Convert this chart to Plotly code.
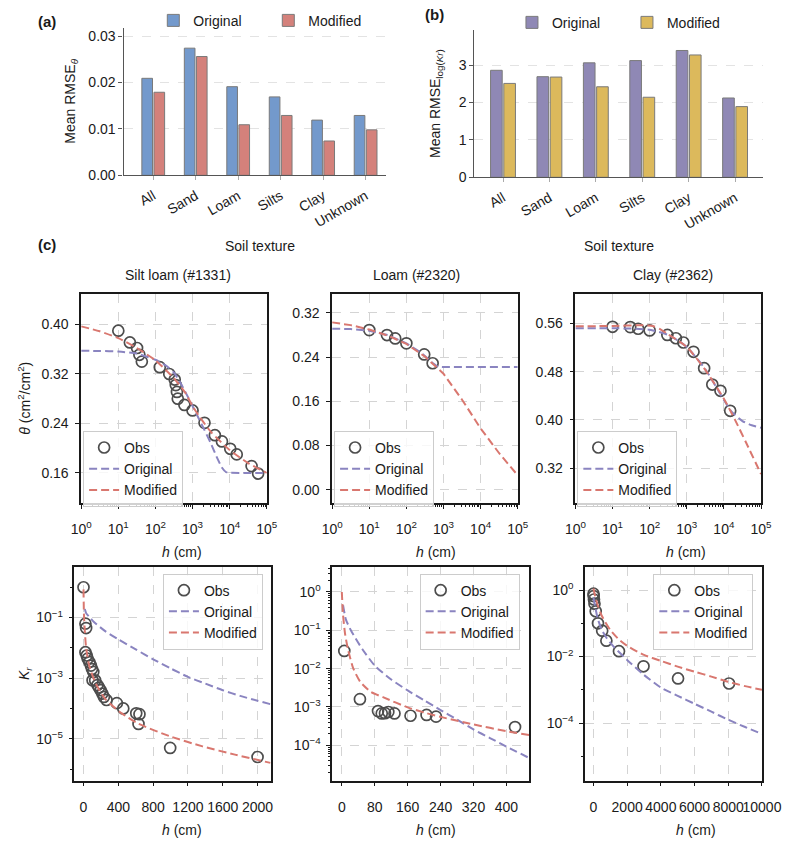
import math
import plotly.graph_objects as go

W, H = 806, 852
FONT = "Liberation Sans, Arial, Helvetica, sans-serif"

# ---------------- (a) / (b) data ----------------
categories = ["All", "Sand", "Loam", "Silts", "Clay", "Unknown"]
rmse_theta_original = [0.0209, 0.0274, 0.0191, 0.0169, 0.0119, 0.0129]
rmse_theta_modified = [0.0179, 0.0256, 0.0109, 0.0129, 0.0074, 0.0098]
rmse_logkr_original = [2.86, 2.69, 3.06, 3.12, 3.39, 2.12]
rmse_logkr_modified = [2.51, 2.68, 2.42, 2.14, 3.27, 1.89]

# ---------------- (c) top row: water retention ----------------
obs_h_1331 = [10, 20.5, 32, 37, 43, 131, 236, 331, 354, 380, 400, 605, 1000, 2100, 4000, 6200, 10400, 15500, 39000, 58500]
obs_theta_1331 = [0.390, 0.371, 0.362, 0.351, 0.340, 0.331, 0.320, 0.311, 0.302, 0.291, 0.280, 0.270, 0.261, 0.241, 0.221, 0.211, 0.199, 0.190, 0.171, 0.159]
orig_h_1331 = [1, 3.16, 10, 31.6, 100, 200, 316, 501, 794, 1259, 1995, 3162, 4467, 6310, 7943, 10000, 31623, 100000]
orig_theta_1331 = [0.3575, 0.3572, 0.3562, 0.353, 0.343, 0.333, 0.322, 0.303, 0.280, 0.256, 0.232, 0.207, 0.186, 0.168, 0.1615, 0.1603, 0.160, 0.160]
mod_h_1331 = [1, 3.16, 10, 31.6, 100, 316, 631, 1000, 1585, 3162, 10000, 31623, 100000]
mod_theta_1331 = [0.397, 0.389, 0.378, 0.362, 0.342, 0.313, 0.290, 0.268, 0.250, 0.226, 0.197, 0.176, 0.160]

obs_h_2320 = [10, 30, 50, 100, 302, 510]
obs_theta_2320 = [0.289, 0.280, 0.274, 0.265, 0.245, 0.229]
orig_h_2320 = [1, 3.16, 10, 31.6, 100, 251, 501, 708, 1000, 10000, 100000]
orig_theta_2320 = [0.2915, 0.291, 0.288, 0.280, 0.265, 0.248, 0.230, 0.2225, 0.222, 0.222, 0.222]
mod_h_2320 = [1, 3.16, 10, 31.6, 100, 316, 1000, 3162, 10000, 31623, 100000]
mod_theta_2320 = [0.303, 0.298, 0.290, 0.279, 0.264, 0.241, 0.210, 0.163, 0.111, 0.066, 0.026]

obs_h_2362 = [10, 30, 49, 100, 300, 510, 810, 1520, 2940, 4870, 8100, 14800]
obs_theta_2362 = [0.5545, 0.554, 0.5513, 0.5485, 0.541, 0.5355, 0.5284, 0.513, 0.4858, 0.4586, 0.4482, 0.415]
orig_h_2362 = [1, 10, 31.6, 100, 316, 1000, 3162, 10000, 15849, 31623, 56234, 100000]
orig_theta_2362 = [0.552, 0.552, 0.5515, 0.5495, 0.541, 0.521, 0.484, 0.433, 0.414, 0.398, 0.391, 0.387]
mod_h_2362 = [1, 10, 63, 126, 200, 316, 1000, 3162, 10000, 19953, 39811, 100000]
mod_theta_2362 = [0.5555, 0.5558, 0.557, 0.5555, 0.550, 0.542, 0.521, 0.483, 0.435, 0.400, 0.362, 0.310]

# ---------------- (c) bottom row: relative conductivity ----------------
obs_hk_1331 = [0, 22, 30, 22, 37, 48, 67, 85, 97, 112, 104, 134, 160, 178, 197, 216, 234, 264, 383, 457, 606, 643, 632, 996, 2000]
obs_kr_1331 = [1.0, 0.063, 0.045, 0.0072, 0.0056, 0.0044, 0.0034, 0.0026, 0.0020, 0.0016, 0.00085, 0.00085, 0.00059, 0.00049, 0.00040, 0.00031, 0.00024, 0.00019, 0.00015, 0.00010, 6.9e-5, 6.5e-5, 3.1e-5, 5.0e-6, 2.5e-6]
orig_hk_1331 = [15, 30, 67, 120, 253, 400, 600, 800, 1000, 1200, 1400, 1600, 1800, 2000, 2150]
orig_kr_1331 = [0.19, 0.14, 0.105, 0.071, 0.035, 0.019, 0.0089, 0.0042, 0.0021, 0.0011, 0.00066, 0.0004, 0.00026, 0.00018, 0.000138]
mod_hk_1331 = [0, 5, 15, 30, 67, 141, 253, 439, 624, 996, 1368, 1740, 2148]
mod_kr_1331 = [0.85, 0.126, 0.036, 0.010, 0.0025, 0.00066, 0.0002, 6.9e-5, 3.2e-5, 1.2e-5, 5.6e-6, 3.0e-6, 1.6e-6]

obs_hk_2320 = [6, 44, 88, 97, 105, 113, 128, 167, 206, 229, 421]
obs_kr_2320 = [0.029, 0.0016, 0.00078, 0.00068, 0.00069, 0.00074, 0.00068, 0.00059, 0.00062, 0.00056, 0.00030]
orig_hk_2320 = [3, 10, 22, 50, 80, 120, 160, 200, 240, 280, 320, 360, 400, 455]
orig_kr_2320 = [0.45, 0.19, 0.1, 0.032, 0.012, 0.0052, 0.0027, 0.0015, 0.00083, 0.00047, 0.00026, 0.000155, 9.3e-5, 4.7e-5]
mod_hk_2320 = [0, 3, 8, 15, 28, 45, 70, 100, 163, 206, 250, 320, 400, 455]
mod_kr_2320 = [1.0, 0.25, 0.079, 0.032, 0.01, 0.0045, 0.0025, 0.0018, 0.00095, 0.00069, 0.00052, 0.00035, 0.000234, 0.000186]

obs_hk_2362 = [3, 10, 30, 60, 134, 268, 517, 766, 1514, 2970, 5020, 8047]
obs_kr_2362 = [0.78, 0.66, 0.52, 0.39, 0.23, 0.10, 0.060, 0.030, 0.0145, 0.0051, 0.0022, 0.00155]
orig_hk_2362 = [0, 100, 250, 500, 800, 1200, 2000, 3000, 4000, 5000, 6000, 7000, 8000, 9000, 10000]
orig_kr_2362 = [0.6, 0.32, 0.14, 0.063, 0.035, 0.02, 0.0079, 0.0028, 0.00117, 0.00066, 0.00038, 0.00022, 0.000126, 7.6e-5, 4.7e-5]
mod_hk_2362 = [0, 100, 250, 500, 1000, 1500, 2000, 3000, 4000, 5000, 6000, 7000, 8000, 9000, 10000]
mod_kr_2362 = [1.12, 0.66, 0.355, 0.166, 0.063, 0.033, 0.021, 0.0112, 0.0074, 0.005, 0.0035, 0.0025, 0.00174, 0.00129, 0.001]

# ---------------- styling ----------------
BAR_BLUE, BAR_RED = "#7399cc", "#d4817b"
BAR_PURPLE, BAR_YELLOW = "#8f88b5", "#dcb95c"
LINE_PURPLE, LINE_RED = "#8a84c0", "#d9776f"
OBS_COLOR = "#4d4d4d"
TXT = "#1a1a1a"
FS = 14


def fx(p):
    return p / W


def fy(p):
    return 1 - p / H


fig = go.Figure()

# bars (a)
fig.add_trace(go.Bar(x=categories, y=rmse_theta_original, name="Original", xaxis="x", yaxis="y",
                     marker=dict(color=BAR_BLUE, line=dict(color="#7a7a7a", width=1)), legend="legend"))
fig.add_trace(go.Bar(x=categories, y=rmse_theta_modified, name="Modified", xaxis="x", yaxis="y",
                     marker=dict(color=BAR_RED, line=dict(color="#7a7a7a", width=1)), legend="legend"))
# bars (b)
fig.add_trace(go.Bar(x=categories, y=rmse_logkr_original, name="Original", xaxis="x2", yaxis="y2",
                     marker=dict(color=BAR_PURPLE, line=dict(color="#7a7a7a", width=1)), legend="legend2"))
fig.add_trace(go.Bar(x=categories, y=rmse_logkr_modified, name="Modified", xaxis="x2", yaxis="y2",
                     marker=dict(color=BAR_YELLOW, line=dict(color="#7a7a7a", width=1)), legend="legend2"))

panels = [
    (3, obs_h_1331, obs_theta_1331, orig_h_1331, orig_theta_1331, mod_h_1331, mod_theta_1331, "spline"),
    (4, obs_h_2320, obs_theta_2320, orig_h_2320, orig_theta_2320, mod_h_2320, mod_theta_2320, "linear"),
    (5, obs_h_2362, obs_theta_2362, orig_h_2362, orig_theta_2362, mod_h_2362, mod_theta_2362, "spline"),
    (6, obs_hk_1331, obs_kr_1331, orig_hk_1331, orig_kr_1331, mod_hk_1331, mod_kr_1331, "spline"),
    (7, obs_hk_2320, obs_kr_2320, orig_hk_2320, orig_kr_2320, mod_hk_2320, mod_kr_2320, "spline"),
    (8, obs_hk_2362, obs_kr_2362, orig_hk_2362, orig_kr_2362, mod_hk_2362, mod_kr_2362, "spline"),
]
for i, oh, ov, gh, gv, mh, mv, shape in panels:
    lg = "legend%d" % i
    fig.add_trace(go.Scatter(x=oh, y=ov, mode="markers", name="Obs", xaxis="x%d" % i, yaxis="y%d" % i,
                             marker=dict(symbol="circle", size=11, color="rgba(0,0,0,0)",
                                         line=dict(color=OBS_COLOR, width=1.7)),
                             legend=lg))
    fig.add_trace(go.Scatter(x=gh, y=gv, mode="lines", name="Original", xaxis="x%d" % i, yaxis="y%d" % i,
                             line=dict(color=LINE_PURPLE, width=2, dash="8px,4px", shape=shape,
                                       smoothing=0.6 if shape == "spline" else None),
                             legend=lg))
    fig.add_trace(go.Scatter(x=mh, y=mv, mode="lines", name="Modified", xaxis="x%d" % i, yaxis="y%d" % i,
                             line=dict(color=LINE_RED, width=2, dash="8px,4px", shape=shape,
                                       smoothing=0.6 if shape == "spline" else None),
                             legend=lg))

# ---------------- axes ----------------
bar_x = dict(type="category", showline=True, linecolor="#555555", linewidth=1.2, ticks="outside",
             ticklen=4, tickcolor="#aaaaaa", tickangle=-30, showgrid=False, zeroline=False,
             ticklabelstandoff=2, tickfont=dict(size=FS, color=TXT))
bar_y = dict(showline=True, linecolor="#555555", linewidth=1.2, ticks="outside", ticklen=4,
             tickcolor="#555555", showgrid=True, gridcolor="#e3e3e3", gridwidth=0.8, griddash="dash",
             zeroline=False, tickfont=dict(size=FS, color=TXT))
box = dict(showline=True, mirror=True, linecolor=TXT, linewidth=1.5, ticks="outside", ticklen=4,
           tickwidth=1.2, tickcolor=TXT, showgrid=True, gridcolor="#d4d4d4", gridwidth=0.8,
           griddash="dash", zeroline=False, tickfont=dict(size=FS, color=TXT))

log_major = [1, 10, 100, 1000, 10000, 100000]
log_text = ["10<sup>%d</sup>" % k for k in range(6)]
log_minor = [m * 10 ** d for d in range(5) for m in range(2, 10)]

layout = dict(
    xaxis=dict(bar_x, domain=[fx(117), fx(390)], anchor="y", range=[-0.7, 5.48]),
    yaxis=dict(bar_y, domain=[fy(177), fy(28)], anchor="x", range=[0, 0.0318],
               tickvals=[0, 0.01, 0.02, 0.03], ticktext=["0.00", "0.01", "0.02", "0.03"]),
    xaxis2=dict(bar_x, domain=[fx(482), fx(782)], anchor="y2", range=[-0.615, 5.6]),
    yaxis2=dict(bar_y, domain=[fy(179), fy(30)], anchor="x2", range=[0, 3.945], tickvals=[0, 1, 2, 3]),
)

top_dom = [fy(508), fy(297)]
for i, (l, r, yr, yt) in zip([3, 4, 5], [
        (73, 266, [0.111, 0.449], [0.16, 0.24, 0.32, 0.40]),
        (334, 527, [-0.0245, 0.354], [0.0, 0.08, 0.16, 0.24, 0.32]),
        (587, 780, [0.2616, 0.6086], [0.32, 0.40, 0.48, 0.56])]):
    layout["xaxis%d" % i] = dict(box, type="log", domain=[fx(l), fx(r)], anchor="y%d" % i, range=[0, 5],
                                 tickvals=log_major, ticktext=log_text, ticklabelstandoff=8, tickangle=0,
                                 minor=dict(tickvals=log_minor, ticks="outside", ticklen=2.5,
                                            tickcolor=TXT, showgrid=False))
    layout["yaxis%d" % i] = dict(box, domain=top_dom, anchor="x%d" % i, range=yr, ticklabelstandoff=4,
                                 tickvals=yt, ticktext=["%.2f" % v for v in yt])

bot_dom = [fy(788), fy(572)]
MINUS = "\u2212"
bottom_specs = [
    (6, 66, 270, [-104, 2150], [0, 400, 800, 1200, 1600, 2000], [-6.38, 0.68],
     [1e-1, 1e-3, 1e-5], [1, 1e-2, 1e-4, 1e-6]),
    (7, 334, 539, [-23.5, 455.6], [0, 80, 160, 240, 320, 400], [-4.92, 0.66],
     [1, 1e-1, 1e-2, 1e-3, 1e-4], [m * 10 ** d for d in range(-5, 1) for m in range(2, 10)]),
    (8, 597, 781, [-500, 10000], [0, 2000, 4000, 6000, 8000, 10000], [-5.73, 0.705],
     [1, 1e-2, 1e-4], [1e-1, 1e-3, 1e-5]),
]
for i, l, r, xr, xt, yr, yt, ym in bottom_specs:
    layout["xaxis%d" % i] = dict(box, domain=[fx(l), fx(r)], anchor="y%d" % i, range=xr, tickvals=xt,
                                 ticktext=[str(v) for v in xt], ticklabelstandoff=9, tickangle=0)
    ytext = []
    for v in yt:
        e = round(math.log10(v))
        ytext.append("10<sup>%s</sup>" % (str(e) if e >= 0 else MINUS + str(-e)))
    layout["yaxis%d" % i] = dict(box, type="log", domain=bot_dom, anchor="x%d" % i, range=yr,
                                 tickvals=yt, ticktext=ytext, ticklabelstandoff=3,
                                 minor=dict(tickvals=ym, ticks="outside", ticklen=2.5,
                                            tickcolor=TXT, showgrid=False))

# ---------------- legends ----------------
bar_leg = dict(orientation="h", xanchor="left", yanchor="middle", bgcolor="rgba(0,0,0,0)",
               borderwidth=0, font=dict(size=FS, color=TXT), entrywidthmode="pixels", entrywidth=70,
               itemclick=False)
layout["legend"] = dict(bar_leg, x=fx(148), y=fy(21))
layout["legend2"] = dict(bar_leg, x=fx(521), y=fy(23))

line_leg = dict(bgcolor="rgba(255,255,255,0.8)", bordercolor="#cccccc", borderwidth=1,
                font=dict(size=FS, color=TXT), tracegroupgap=0, itemwidth=30)
layout["legend3"] = dict(line_leg, x=fx(75), y=fy(435), xanchor="left", yanchor="top")
layout["legend4"] = dict(line_leg, x=fx(336), y=fy(435), xanchor="left", yanchor="top")
layout["legend5"] = dict(line_leg, x=fx(589), y=fy(435), xanchor="left", yanchor="top")
layout["legend6"] = dict(line_leg, x=fx(262), y=fy(579), xanchor="right", yanchor="top")
layout["legend7"] = dict(line_leg, x=fx(529), y=fy(579), xanchor="right", yanchor="top")
layout["legend8"] = dict(line_leg, x=fx(772), y=fy(579), xanchor="right", yanchor="top")

# ---------------- annotations (titles) ----------------
ann = []


def text(x, y, s, size=FS, angle=0, bold=False, xanchor="center"):
    ann.append(dict(x=fx(x), y=fy(y), xref="paper", yref="paper", text=("<b>%s</b>" % s) if bold else s,
                    showarrow=False, textangle=angle, xanchor=xanchor, yanchor="middle",
                    font=dict(size=size, color=TXT, family=FONT)))


text(26, 22, "(a)", 15, bold=True, xanchor="left")
text(428, 15, "(b)", 15, bold=True, xanchor="left")
text(26, 247, "(c)", 15, bold=True, xanchor="left")
text(62, 102, "Mean RMSE<sub><i>θ</i></sub>", angle=-90)
text(442, 104, "Mean RMSE<sub>log(<i>Kr</i>)</sub>", angle=-90)
text(259, 248, "Soil texture")
text(632, 248, "Soil texture")
text(174, 278, "Silt loam (#1331)")
text(422, 278, "Loam (#2320)")
text(688, 278, "Clay (#2362)")
text(14, 402, "<i>θ</i> (cm<sup>2</sup>/cm<sup>2</sup>)", angle=-90)
text(14, 680, "<i>K<sub>r</sub></i>", angle=-90)
for xc in (178, 442, 702):
    text(xc, 557, "<i>h</i> (cm)")
for xc in (178, 442, 712):
    text(xc, 838, "<i>h</i> (cm)")

layout.update(
    width=W, height=H, margin=dict(l=0, r=0, t=0, b=0), paper_bgcolor="white", plot_bgcolor="white",
    font=dict(family=FONT, size=FS, color=TXT), barmode="group", bargap=0.43, bargroupgap=0.12,
    annotations=ann, showlegend=True,
)
fig.update_layout(**layout)
fig.write_html("out.html")
